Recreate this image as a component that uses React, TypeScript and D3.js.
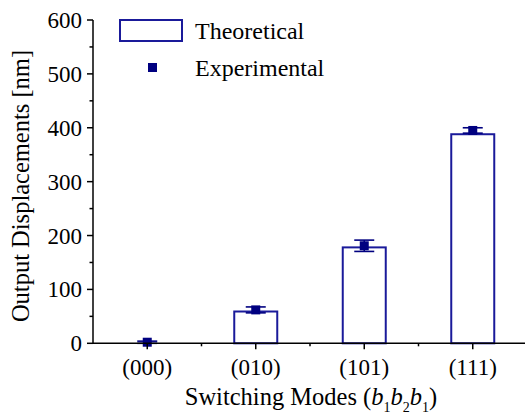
import React from "react";
import * as d3 from "d3";

const categories = ["(000)", "(010)", "(101)", "(111)"];
const theoretical = [0, 59, 178, 388];
const experimental = [2, 62, 181, 395];
const expError = [2, 5.5, 10.5, 5];
const yTicks = [0, 100, 200, 300, 400, 500, 600];
const yMinorTicks = [50, 150, 250, 350, 450, 550];

const W = 525;
const H = 414;
const margin = { left: 93, top: 20, right: -2, bottom: 71 };
const NAVY = "#000080";
const BAR = "#1a1a9a";
const FONT = "'Liberation Serif', 'Times New Roman', serif";

export default function App() {
  const x = d3
    .scaleBand<string>()
    .domain(categories)
    .range([margin.left, W - margin.right])
    .paddingInner(0.6)
    .paddingOuter(0.3);
  const step = x.step();
  const y = d3.scaleLinear().domain([0, 600]).range([343.3, 20]);
  const bw = 43;

  return (
    <svg
      width={W}
      height={H}
      style={{ position: "absolute", left: 0, top: 0, background: "#fff", fontFamily: FONT }}
    >
      {/* bars */}
      {categories.map((c, i) => {
        const cx = (x(c) as number) + x.bandwidth() / 2;
        const top = y(theoretical[i]);
        return (
          <rect
            key={c}
            x={cx - bw / 2}
            y={top}
            width={bw}
            height={y(0) - top}
            fill="none"
            stroke={BAR}
            strokeWidth={2}
          />
        );
      })}
      {/* error bars + points */}
      {categories.map((c, i) => {
        const cx = (x(c) as number) + x.bandwidth() / 2;
        const yt = y(experimental[i] + expError[i]);
        const yb = y(experimental[i] - expError[i]);
        const yc = y(experimental[i]);
        return (
          <g key={c} stroke={NAVY} strokeWidth={1.6}>
            <line x1={cx} x2={cx} y1={yt} y2={yb} />
            <line x1={cx - 10} x2={cx + 10} y1={yt} y2={yt} />
            <line x1={cx - 10} x2={cx + 10} y1={yb} y2={yb} />
            <rect x={cx - 4.5} y={yc - 4.5} width={9} height={9} fill={NAVY} stroke="none" />
          </g>
        );
      })}
      {/* y axis */}
      <line x1={margin.left} x2={margin.left} y1={y(600)} y2={y(0)} stroke="#000" strokeWidth={1.5} />
      {yTicks.map((t) => (
        <g key={t}>
          <line x1={margin.left - 6} x2={margin.left} y1={y(t)} y2={y(t)} stroke="#000" strokeWidth={1.5} />
          <text x={margin.left - 11} y={y(t)} dy="0.35em" textAnchor="end" fontSize={23}>
            {t}
          </text>
        </g>
      ))}
      {yMinorTicks.map((t) => (
        <line key={t} x1={margin.left - 3.5} x2={margin.left} y1={y(t)} y2={y(t)} stroke="#000" strokeWidth={1.5} />
      ))}
      {/* x axis */}
      <line x1={margin.left} x2={W} y1={y(0)} y2={y(0)} stroke="#000" strokeWidth={1.5} />
      {categories.map((c, i) => {
        const cx = (x(c) as number) + x.bandwidth() / 2;
        return (
          <g key={c}>
            <line x1={cx} x2={cx} y1={y(0)} y2={y(0) + 6} stroke="#000" strokeWidth={1.5} />
            {i > 0 && (
              <line x1={cx - step / 2} x2={cx - step / 2} y1={y(0)} y2={y(0) + 3} stroke="#000" strokeWidth={1.5} />
            )}
            <text x={cx} y={375} textAnchor="middle" fontSize={23}>
              {c}
            </text>
          </g>
        );
      })}
      {/* axis titles */}
      <text transform={`translate(29, 186) rotate(-90)`} textAnchor="middle" fontSize={24.5}>
        Output Displacements [nm]
      </text>
      <text x={311} y={405} textAnchor="middle" fontSize={24.5}>
        Switching Modes (<tspan fontStyle="italic">b</tspan>
        <tspan fontSize={14} dy={7}>1</tspan>
        <tspan fontStyle="italic" dy={-7}>b</tspan>
        <tspan fontSize={14} dy={7}>2</tspan>
        <tspan fontStyle="italic" dy={-7}>b</tspan>
        <tspan fontSize={14} dy={7}>1</tspan>
        <tspan dy={-7}>)</tspan>
      </text>
      {/* legend */}
      <rect x={120} y={20} width={62} height={21} fill="none" stroke={BAR} strokeWidth={2} />
      <text x={195} y={39} fontSize={24}>Theoretical</text>
      <rect x={148} y={63} width={9} height={9} fill={NAVY} />
      <text x={195} y={76} fontSize={24}>Experimental</text>
    </svg>
  );
}
